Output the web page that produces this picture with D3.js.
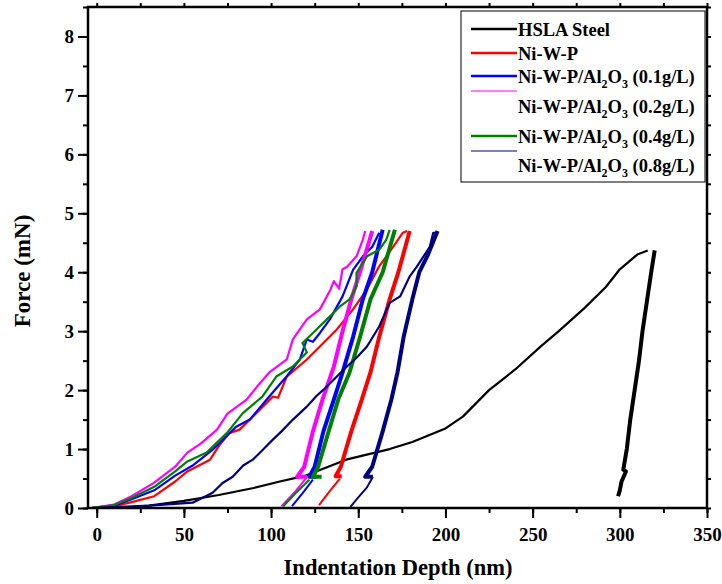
<!DOCTYPE html>
<html>
<head>
<meta charset="utf-8">
<script src="https://cdn.jsdelivr.net/npm/d3@7"></script>
<style>
  body { margin: 0; background: #fff; }
  svg text { font-family: "Liberation Serif", "Times New Roman", serif; font-weight: bold; fill: #000; }
</style>
</head>
<body>
<svg id="chart" width="722" height="584"></svg>
<script>
// load / unload / tail readings, [depth nm, force mN]
const hslaLoad = [[13,0],[30,0.04],[50,0.12],[70,0.22],[90,0.34],[105,0.45],[120,0.55],[143,0.82],[168,1.0],[181,1.12],[200,1.35],[210,1.55],[225,2.0],[240,2.35],[255,2.75],[265,3.0],[280,3.4],[292,3.75],[300,4.05],[310,4.3],[316,4.37]];
const hslaUnload = [[320,4.37],[318,4.0],[315.5,3.5],[313,3.0],[311,2.5],[308.5,2.0],[306,1.5],[304,1.0],[302,0.65],[303.5,0.62],[301,0.45],[300,0.3],[299,0.2]];

const nwpLoad = [[-3,0],[10,0.03],[20,0.1],[33,0.2],[45,0.45],[52,0.62],[65,0.82],[70,1.05],[76,1.27],[82,1.33],[89.5,1.55],[101,1.89],[104,1.87],[109,2.23],[120.5,2.52],[128,2.74],[137.7,3.03],[147,3.37],[155,3.71],[162,4.1],[170,4.43],[175.6,4.67],[178,4.7]];
const nwpUnload = [[179.5,4.7],[173,4.0],[168,3.54],[162,2.9],[157,2.3],[152,1.84],[146,1.3],[140,0.7],[137,0.54],[140.5,0.54]];
const nwpTail = [[139.5,0.5],[134,0.3],[127.5,0.05]];

const al01Load = [[-3,0],[10,0.04],[20,0.15],[33,0.3],[45,0.55],[55,0.72],[66.5,0.99],[80,1.38],[87.8,1.5],[97.5,1.84],[105,2.1],[108,2.2],[116.5,2.52],[120.5,2.86],[124,2.82],[128,2.97],[133.7,3.2],[141,3.59],[147,4.04],[152.6,4.27],[158,4.43],[162,4.67]];
const al01Unload = [[164,4.72],[158,4.0],[152.6,3.54],[147,2.9],[141,2.3],[136,1.84],[130,1.3],[125,0.7],[122,0.53],[126,0.53]];
const al01Tail = [[124,0.48],[118,0.25],[112,0.03]];

const al02Load = [[-3,0],[10,0.06],[20,0.2],[33,0.43],[45,0.7],[52,0.94],[60,1.1],[69,1.33],[75,1.6],[86,1.84],[92,2.06],[99,2.3],[109,2.52],[112.5,2.86],[120.5,3.2],[128,3.37],[134,3.7],[136,3.85],[139,3.72],[141,4.05],[143.5,4.09],[149,4.27],[152.6,4.55],[154,4.7]];
const al02Unload = [[158,4.7],[152,4.1],[146,3.54],[141,3.0],[136,2.4],[129.5,1.84],[124,1.3],[119,0.7],[115,0.53],[120.5,0.53]];
const al02Tail = [[120.5,0.52],[113,0.25],[106,0.03]];

const al04Load = [[-3,0],[10,0.05],[20,0.17],[33,0.36],[45,0.62],[52,0.79],[63,0.94],[74.6,1.27],[83.8,1.61],[95,1.89],[103,2.23],[112.5,2.4],[120.5,2.64],[118,2.8],[124,2.97],[132,3.2],[139.5,3.42],[145,3.54],[149,3.76],[149,3.99],[155,4.27],[162,4.38],[166,4.55],[168,4.72]];
const al04Unload = [[171,4.72],[164,4.0],[157,3.54],[151,2.9],[145,2.3],[138.5,1.84],[133,1.3],[127,0.7],[124,0.53],[129,0.53]];
const al04Tail = [[122,0.48],[114,0.25],[107,0.03]];

const al08Load = [[-3,0],[30,0.04],[55,0.09],[66.5,0.26],[72,0.42],[78,0.53],[84,0.72],[89.5,0.82],[95,0.98],[101,1.16],[106,1.3],[112.5,1.5],[120.5,1.72],[126,1.9],[132,2.06],[143.5,2.4],[149,2.55],[155,2.74],[162,3.08],[168,3.48],[174,3.59],[179.5,3.93],[183.5,4.09],[191,4.43],[193,4.67],[195.6,4.67]];
const al08Unload = [[195.5,4.7],[190,4.3],[185,4.0],[181,3.54],[176,2.9],[172.5,2.3],[169,1.84],[164,1.3],[158,0.7],[154,0.53],[158.4,0.53]];
const al08Tail = [[158.4,0.53],[155,0.35],[150,0.18],[145.5,0.02]];

const xTicks = [0, 50, 100, 150, 200, 250, 300, 350];
const yTicks = [0, 1, 2, 3, 4, 5, 6, 7, 8];

const legendNames = ["HSLA Steel", "Ni-W-P", "0.1g/L", "0.2g/L", "0.4g/L", "0.8g/L"];

const svg = d3.select("#chart");
const pLeft = 88, pRight = 707, pTop = 7, pBottom = 508;

const x = d3.scaleLinear().domain([-5, 350]).range([pLeft, pRight]);
const y = d3.scaleLinear().domain([0, 8.5]).range([pBottom, pTop]);

const line = d3.line().x(d => x(d[0])).y(d => y(d[1]));

function curve(pts, color, w) {
    svg.append("path")
        .attr("d", line(pts))
        .attr("fill", "none")
        .attr("stroke", color)
        .attr("stroke-width", w)
        .attr("stroke-linejoin", "round");
}

// series, in drawing order
const series = [
    { load: hslaLoad, unload: hslaUnload, tail: null, color: "#000000" },
    { load: nwpLoad, unload: nwpUnload, tail: nwpTail, color: "#ff0000" },
    { load: al01Load, unload: al01Unload, tail: al01Tail, color: "#0000ff" },
    { load: al02Load, unload: al02Unload, tail: al02Tail, color: "#ff00ff" },
    { load: al04Load, unload: al04Unload, tail: al04Tail, color: "#008000" },
    { load: al08Load, unload: al08Unload, tail: al08Tail, color: "#000080" }
];
series.forEach(s => {
    curve(s.load, s.color, 2.2);
    curve(s.unload, s.color, 4);
    if (s.tail) curve(s.tail, s.color, 2);
});

// axes
const xMinor = d3.range(0, 351, 25);
const yMinor = d3.range(0, 8.51, 0.5);

svg.append("g").attr("transform", `translate(0,${pBottom})`)
    .call(d3.axisBottom(x).tickValues(xMinor).tickSize(5).tickFormat(""));
svg.append("g").attr("transform", `translate(0,${pBottom})`)
    .call(d3.axisBottom(x).tickValues(xTicks).tickSize(10).tickPadding(10).tickFormat(d3.format("d")));
svg.append("g").attr("transform", `translate(${pLeft},0)`)
    .call(d3.axisLeft(y).tickValues(yMinor).tickSize(5).tickFormat(""));
svg.append("g").attr("transform", `translate(${pLeft},0)`)
    .call(d3.axisLeft(y).tickValues(yTicks).tickSize(10).tickPadding(4).tickFormat(d3.format("d")));
svg.append("g").attr("transform", `translate(0,${pTop})`)
    .call(d3.axisTop(x).tickValues(xMinor).tickSize(4).tickFormat(""));
svg.append("g").attr("transform", `translate(${pRight},0)`)
    .call(d3.axisRight(y).tickValues(yMinor).tickSize(4).tickFormat(""));

svg.selectAll(".domain").remove();
svg.selectAll(".tick line").attr("stroke", "#000").attr("stroke-width", 2);
svg.selectAll(".tick text").style("font-size", "19px").style("font-family", "Liberation Serif").style("font-weight", "bold");

svg.append("rect")
    .attr("x", pLeft).attr("y", pTop)
    .attr("width", pRight - pLeft).attr("height", pBottom - pTop)
    .attr("fill", "none").attr("stroke", "#000").attr("stroke-width", 2.5);

// axis titles
svg.append("text")
    .attr("x", 398).attr("y", 575)
    .attr("text-anchor", "middle").style("font-size", "22.5px")
    .text("Indentation Depth (nm)");
svg.append("text")
    .attr("transform", "translate(30,271) rotate(-90)")
    .attr("text-anchor", "middle").style("font-size", "23px")
    .text("Force (mN)");

// legend (symbols sit where the original placed them)
const lg = svg.append("g");
lg.append("rect").attr("x", 461).attr("y", 11).attr("width", 244).attr("height", 171)
    .attr("fill", "#fff").attr("stroke", "#000").attr("stroke-width", 1);

const symY = [29, 53, 76, 91, 136, 151];
const symW = [2.5, 2.5, 2.5, 1, 2.5, 1];
const textY = [36, 60, 83, 113, 143, 172];
series.forEach((s, i) => {
    lg.append("line").attr("x1", 471).attr("x2", 517)
        .attr("y1", symY[i]).attr("y2", symY[i])
        .attr("stroke", s.color).attr("stroke-width", symW[i]);
    const t = lg.append("text").attr("x", 518).attr("y", textY[i]).style("font-size", "18.5px");
    if (i < 2) {
        t.text(legendNames[i]);
    } else {
        t.append("tspan").text("Ni-W-P/Al");
        t.append("tspan").attr("dy", 5).style("font-size", "12px").text("2");
        t.append("tspan").attr("dy", -5).text("O");
        t.append("tspan").attr("dy", 5).style("font-size", "12px").text("3");
        t.append("tspan").attr("dy", -5).text(" (" + legendNames[i] + ")");
    }
});
</script>
</body>
</html>
